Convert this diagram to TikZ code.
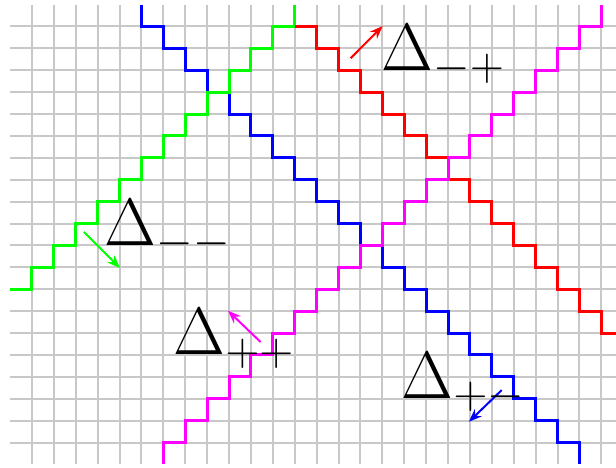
\RequirePackage{fix-cm}
\documentclass[tikz,border=0pt]{standalone}
\usetikzlibrary{arrows.meta}
\definecolor{gridgray}{RGB}{200,200,200}
\definecolor{pgreen}{RGB}{0,255,0}
\definecolor{pblue}{RGB}{0,0,255}
\definecolor{pred}{RGB}{255,0,0}
\definecolor{pmagenta}{RGB}{255,0,255}
\begin{document}
\begin{tikzpicture}[x=21.9pt,y=-21.9pt,
  gridline/.style={draw=gridgray, line width=2pt},
  stair/.style={line width=3pt, line join=miter},
  arr/.style={line width=2pt, -{Stealth[length=13pt,width=10pt]}},
  lbl/.style={inner sep=0pt, anchor=base west, font=\fontsize{67}{67}\selectfont}]
\useasboundingbox (-0.4612,-0.21) rectangle (27.667,21.16);
% grid
\foreach \i in {1,...,27} \draw[gridline] (\i,0) -- (\i,21);
\foreach \j in {1,...,20} \draw[gridline] (0,\j) -- (27.667,\j);
% staircases
\draw[stair, pblue] (6,0) \foreach \k in {6,...,25}{ -- ({\k},{\k-5}) -- ({\k+1},{\k-5})} -- (26,21);
\draw[stair, pgreen] (0,13) \foreach \k in {1,...,12}{ -- ({\k},{14-\k}) -- ({\k},{13-\k})} -- (13,1) -- (13,0);
\draw[stair, pred] (13,1) \foreach \k in {14,...,27}{ -- ({\k},{\k-13}) -- ({\k},{\k-12})} -- (27.667,15);
\draw[stair, pmagenta] (7,21) -- (7,20) \foreach \k in {8,...,27}{ -- ({\k},{28-\k}) -- ({\k},{27-\k})};
% arrows
\coordinate (rt) at (15.55,2.45);  \coordinate (rh) at (17.01,0.98);
\coordinate (gt) at (3.37,10.38);  \coordinate (gh) at (5.02,12.03);
\coordinate (mt) at (11.44,15.41); \coordinate (mh) at (9.95,13.98);
\coordinate (bt) at (22.45,17.6);  \coordinate (bh) at (20.95,19.05);
\draw[arr, pred] (rt) -- (rh);
\draw[arr, pgreen] (gt) -- (gh);
\draw[arr, pmagenta] (mt) -- (mh);
\draw[arr, pblue] (bt) -- (bh);
% labels
\node[lbl] (dmp) at (16.97,3) {$\Delta_{-+}$};
\node[lbl] (dmm) at (4.32,11) {$\Delta_{--}$};
\node[lbl] (dpp) at (7.47,16) {$\Delta_{++}$};
\node[lbl] (dpm) at (17.88,18) {$\Delta_{+-}$};
\end{tikzpicture}
\end{document}
